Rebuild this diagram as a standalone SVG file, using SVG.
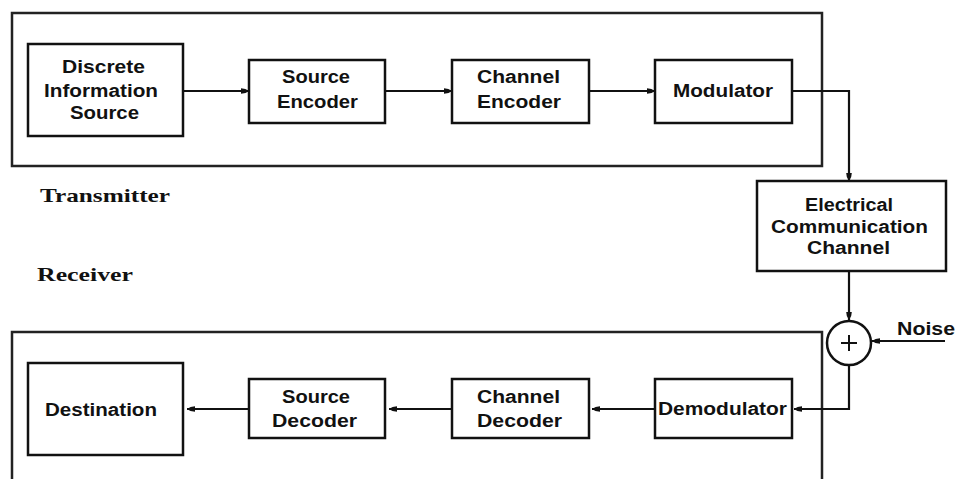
<svg xmlns="http://www.w3.org/2000/svg" width="956" height="479" viewBox="0 0 956 479">
  <style>
    .box { fill: #fff; stroke: #111; stroke-width: 2.5; }
    .frame { fill: none; stroke: #222; stroke-width: 2.5; }
    .wire { fill: none; stroke: #111; stroke-width: 2.2; }
    .lbl { font-family: "Liberation Sans", Arial, sans-serif; font-size: 18px; fill: #111; text-anchor: start; font-weight: bold; }
    .side { font-family: "Liberation Serif", "Times New Roman", serif; font-size: 19px; font-weight: bold; fill: #111; }
  </style>
  <defs>
    <marker id="head" viewBox="0 0 10 8" refX="10" refY="4" markerWidth="8" markerHeight="6.4" markerUnits="userSpaceOnUse" orient="auto">
      <path d="M0,0.5 Q6,0.5 10,4 Q6,7.5 0,7.5 Z" fill="#111"/>
    </marker>
  </defs>
  <rect width="956" height="479" fill="#fff"/>

  <!-- transmitter and receiver enclosures -->
  <path class="frame" d="M12,13 H822 V166 H12 Z"/>
  <path class="frame" d="M12,479 V332 H822 V479"/>
  <text class="side" x="40" y="202" textLength="130" lengthAdjust="spacingAndGlyphs">Transmitter</text>
  <text class="side" x="37" y="281" textLength="96" lengthAdjust="spacingAndGlyphs">Receiver</text>

  <g id="connectors">
    <line class="wire" x1="183" y1="91" x2="249" y2="91" marker-end="url(#head)"/>
    <line class="wire" x1="385" y1="91" x2="452" y2="91" marker-end="url(#head)"/>
    <line class="wire" x1="589" y1="91" x2="655" y2="91" marker-end="url(#head)"/>
    <path class="wire" d="M792,91 H849 V181" marker-end="url(#head)"/>
    <line class="wire" x1="849" y1="271" x2="849" y2="320" marker-end="url(#head)"/>
    <line class="wire" x1="945" y1="341" x2="872" y2="341" marker-end="url(#head)"/>
    <path class="wire" d="M849,365 V409 H794" marker-end="url(#head)"/>
    <line class="wire" x1="655" y1="409" x2="592" y2="409" marker-end="url(#head)"/>
    <line class="wire" x1="452" y1="409" x2="389" y2="409" marker-end="url(#head)"/>
    <line class="wire" x1="249" y1="409" x2="187" y2="409" marker-end="url(#head)"/>
  </g>

  <g id="discrete-source">
    <rect class="box" x="28" y="44" width="155" height="92"/>
    <text class="lbl" x="62" y="73" textLength="83" lengthAdjust="spacingAndGlyphs">Discrete</text>
    <text class="lbl" x="44" y="97" textLength="114" lengthAdjust="spacingAndGlyphs">Information</text>
    <text class="lbl" x="70" y="119" textLength="69" lengthAdjust="spacingAndGlyphs">Source</text>
  </g>
  <g id="source-encoder">
    <rect class="box" x="249" y="60" width="136" height="63"/>
    <text class="lbl" x="282" y="83" textLength="68" lengthAdjust="spacingAndGlyphs">Source</text>
    <text class="lbl" x="277" y="108" textLength="81" lengthAdjust="spacingAndGlyphs">Encoder</text>
  </g>
  <g id="channel-encoder">
    <rect class="box" x="452" y="60" width="137" height="63"/>
    <text class="lbl" x="477" y="83" textLength="83" lengthAdjust="spacingAndGlyphs">Channel</text>
    <text class="lbl" x="477" y="108" textLength="84" lengthAdjust="spacingAndGlyphs">Encoder</text>
  </g>
  <g id="modulator">
    <rect class="box" x="655" y="60" width="137" height="63"/>
    <text class="lbl" x="673" y="97" textLength="100" lengthAdjust="spacingAndGlyphs">Modulator</text>
  </g>
  <g id="channel">
    <rect class="box" x="757" y="181" width="189" height="90"/>
    <text class="lbl" x="805" y="211" textLength="88" lengthAdjust="spacingAndGlyphs">Electrical</text>
    <text class="lbl" x="771" y="233" textLength="157" lengthAdjust="spacingAndGlyphs">Communication</text>
    <text class="lbl" x="807" y="254" textLength="83" lengthAdjust="spacingAndGlyphs">Channel</text>
  </g>
  <g id="adder">
    <circle cx="849" cy="343" r="22" fill="#fff" stroke="#111" stroke-width="2.5"/>
    <path d="M841,343 H857 M849,335 V351" stroke="#111" stroke-width="2"/>
  </g>
  <g id="noise">
    <text class="lbl" x="897" y="335" textLength="58" lengthAdjust="spacingAndGlyphs">Noise</text>
  </g>
  <g id="demodulator">
    <rect class="box" x="655" y="379" width="137" height="59"/>
    <text class="lbl" x="658" y="415" textLength="129" lengthAdjust="spacingAndGlyphs">Demodulator</text>
  </g>
  <g id="channel-decoder">
    <rect class="box" x="452" y="379" width="137" height="59"/>
    <text class="lbl" x="477" y="403" textLength="83" lengthAdjust="spacingAndGlyphs">Channel</text>
    <text class="lbl" x="477" y="427" textLength="85" lengthAdjust="spacingAndGlyphs">Decoder</text>
  </g>
  <g id="source-decoder">
    <rect class="box" x="249" y="379" width="136" height="59"/>
    <text class="lbl" x="282" y="403" textLength="68" lengthAdjust="spacingAndGlyphs">Source</text>
    <text class="lbl" x="272" y="427" textLength="85" lengthAdjust="spacingAndGlyphs">Decoder</text>
  </g>
  <g id="destination">
    <rect class="box" x="28" y="363" width="155" height="92"/>
    <text class="lbl" x="45" y="416" textLength="112" lengthAdjust="spacingAndGlyphs">Destination</text>
  </g>
</svg>
